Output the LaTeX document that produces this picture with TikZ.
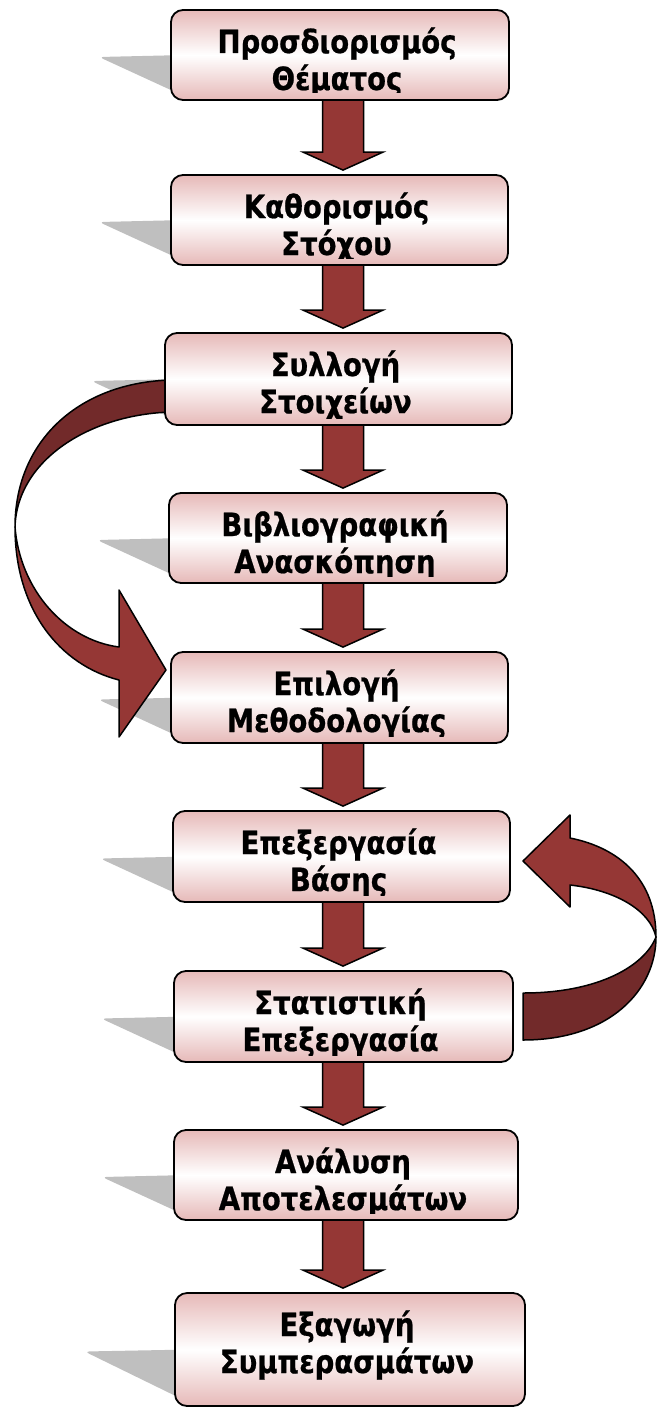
\documentclass[tikz,border=0pt]{standalone}
\usepackage{fontspec}
\usetikzlibrary{calc}
\newfontfamily\boxfont[FakeStretch=0.86, BoldFeatures={FakeBold=0.7}]{DejaVu Sans}
\definecolor{pinkc}{HTML}{E6B9B8}
\definecolor{arrowc}{HTML}{953735}
\definecolor{darkc}{HTML}{722A2A}
\definecolor{shadowc}{HTML}{BFBFBF}
\pgfdeclarelayer{bg}
\pgfsetlayers{bg,main}
\tikzset{
  stepbox/.style={draw=black, line width=1.8pt, rounded corners=12pt,
    top color=pinkc, bottom color=pinkc, middle color=white, inner sep=0pt},
  steptext/.style={anchor=base, inner sep=0pt, text=black,
    font=\boxfont\bfseries\fontsize{32}{38}\selectfont},
  barrow/.style={fill=arrowc, draw=black, line width=1.5pt, line join=miter},
  carrowlight/.style={fill=arrowc, draw=black, line width=1.5pt, line join=round},
  carrowdark/.style={fill=darkc, draw=black, line width=1.5pt, line join=round},
  shadowfill/.style={fill=shadowc, rounded corners=5pt}
}
\begin{document}
\begin{tikzpicture}[x=1pt,y=1pt]
\useasboundingbox (0,0) rectangle (657,-1410);
\def\boxlist{b1/171/10/509/100/Προσδιορισμός/Θέματος,
  b2/171/175/508/265/Καθορισμός/Στόχου,
  b3/165/333/512/425/Συλλογή/Στοιχείων,
  b4/169/493/507/583/Βιβλιογραφική/Ανασκόπηση,
  b5/171/652/508/743/Επιλογή/Μεθοδολογίας,
  b6/173/811/510/902/Επεξεργασία/Βάσης,
  b7/174/971/513/1062/Στατιστική/Επεξεργασία,
  b8/174/1130/518/1220/Ανάλυση/Αποτελεσμάτων,
  b9/175/1293/525/1406/Εξαγωγή/Συμπερασμάτων}
% boxes with their shadows and texts
\foreach \nm/\lx/\ty/\rx/\by/\txa/\txb in \boxlist {
  \pgfmathsetmacro\cx{(\lx+\rx)/2}
  \pgfmathsetmacro\cy{-(\ty+\by)/2}
  \pgfmathsetmacro\w{\rx-\lx}
  \pgfmathsetmacro\h{\by-\ty}
  \pgfmathsetmacro\ext{0.8*\h}
  \begin{pgfonlayer}{bg}
    \fill[shadowfill] (\lx+15,\cy) -- (\lx-\ext,\cy-2) -- (\lx+15,-\by+3) -- cycle;
  \end{pgfonlayer}
  \node[stepbox, minimum width=\w pt, minimum height=\h pt] (\nm) at (\cx,\cy) {};
  \begin{scope}
    \clip (\lx,-\ty) rectangle (\rx,-\by+7);
    \node[steptext] (\nm-1) at (\cx-3,-\ty-43) {\txa};
    \node[steptext] (\nm-2) at (\cx-3,-\ty-80) {\txb};
  \end{scope}
}
\begin{pgfonlayer}{bg}
% straight block arrows
\foreach \a/\bb in {b1/b2,b2/b3,b3/b4,b4/b5,b5/b6,b6/b7,b7/b8,b8/b9} {
  \draw[barrow] let \p1=(\a.south), \p2=(\bb.north) in
    (322.5pt,\y1+4pt) -- (363.5pt,\y1+4pt) -- (363.5pt,\y2+22pt) -- (383pt,\y2+22pt)
    -- (343pt,\y2+4pt) -- (303pt,\y2+22pt) -- (322.5pt,\y2+22pt) -- cycle;
}
% left curved arrow (b3 -> b5)
\filldraw[carrowdark] (172,-380) .. controls (80,-382) and (15,-440) .. (15,-527)
  .. controls (17,-460) and (90,-414) .. (172,-412) -- cycle;
\filldraw[carrowlight] (15,-527) .. controls (15,-610) and (60,-665) .. (119,-680)
  -- (119,-737) -- (166,-670) -- (119,-590) -- (119,-647)
  .. controls (65,-640) and (20,-590) .. (15,-527) -- cycle;
% right curved arrow (b7 -> b6)
\filldraw[carrowdark] (523,-1040) .. controls (610,-1040) and (656,-990) .. (656,-937)
  .. controls (645,-965) and (600,-993) .. (523,-993) -- cycle;
\filldraw[carrowlight] (656,-937) .. controls (656,-880) and (620,-848) .. (570,-838)
  -- (570,-815) -- (523,-861) -- (570,-907) -- (570,-885)
  .. controls (615,-890) and (650,-910) .. (656,-937) -- cycle;
\end{pgfonlayer}
\end{tikzpicture}
\end{document}
